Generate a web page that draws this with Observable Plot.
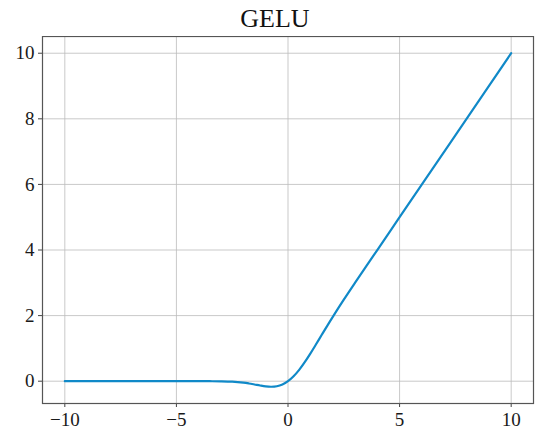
<!DOCTYPE html>
<html>
<head>
<meta charset="utf-8">
<script src="https://cdn.jsdelivr.net/npm/d3@7"></script>
<script src="https://cdn.jsdelivr.net/npm/@observablehq/plot@0.6"></script>
<style>
  body { margin: 0; background: #fff; }
  #title { width: 550px; height: 36px; box-sizing: border-box; padding-left: 0; text-align: center;
    font-family: "Liberation Serif", "DejaVu Serif", serif; font-size: 26px; line-height: 38px; color: #111; }
  svg { display: block; }
  #chart svg text { font-size: 19px !important; font-family: "Liberation Serif", "DejaVu Serif", serif !important; fill: #1a1a1a; }
</style>
</head>
<body>
<div id="title">GELU</div>
<div id="chart"></div>
<script>
const xs = [-10,-8,-6,-4,-3.5,-3,-2.5,-2,-1.75,-1.5,-1.25,-1,-0.75,-0.5,-0.25,0,0.25,0.5,0.75,1,1.25,1.5,1.75,2,2.5,3,3.5,4,5,6,8,10];
const ys = [0,0,0,-0.0001,-0.0008,-0.004,-0.0155,-0.0455,-0.07,-0.1002,-0.132,-0.1587,-0.17,-0.1543,-0.1003,0,0.1497,0.3457,0.58,0.8413,1.118,1.3998,1.68,1.9545,2.4845,2.996,3.4992,3.9999,5,6,8,10];
const xTicks = [-10,-5,0,5,10];
const yTicks = [0,2,4,6,8,10];

const data = xs.map((x, i) => ({x, y: ys[i]}));
const fmt = d => String(d).replace("-", "\u2212");

const chart = Plot.plot({
  width: 550,
  height: 406,
  marginLeft: 42,
  marginRight: 17,
  marginTop: 0,
  marginBottom: 39,
  style: { fontFamily: "'Liberation Serif', 'DejaVu Serif', serif", fontSize: "19px", color: "#1a1a1a", background: "#fff" },
  x: { domain: [-11, 11], label: null },
  y: { domain: [-0.68, 10.51], label: null },
  marks: [
    Plot.gridX(xTicks, {stroke: "#bbb", strokeOpacity: 0.8, strokeWidth: 1}),
    Plot.gridY(yTicks, {stroke: "#bbb", strokeOpacity: 0.8, strokeWidth: 1}),
    Plot.axisX({ticks: xTicks, tickFormat: fmt, tickSize: 4, tickPadding: 5, fontSize: 19, stroke: "#444"}),
    Plot.axisY({ticks: yTicks, tickFormat: fmt, tickSize: 4, tickPadding: 4, fontSize: 19, stroke: "#444"}),
    Plot.line(data, {x: "x", y: "y", stroke: "#1089c8", strokeWidth: 2.2, curve: "catmull-rom"}),
    Plot.frame({stroke: "#555", strokeWidth: 1.2})
  ]
});
document.getElementById("chart").appendChild(chart);
</script>
</body>
</html>
